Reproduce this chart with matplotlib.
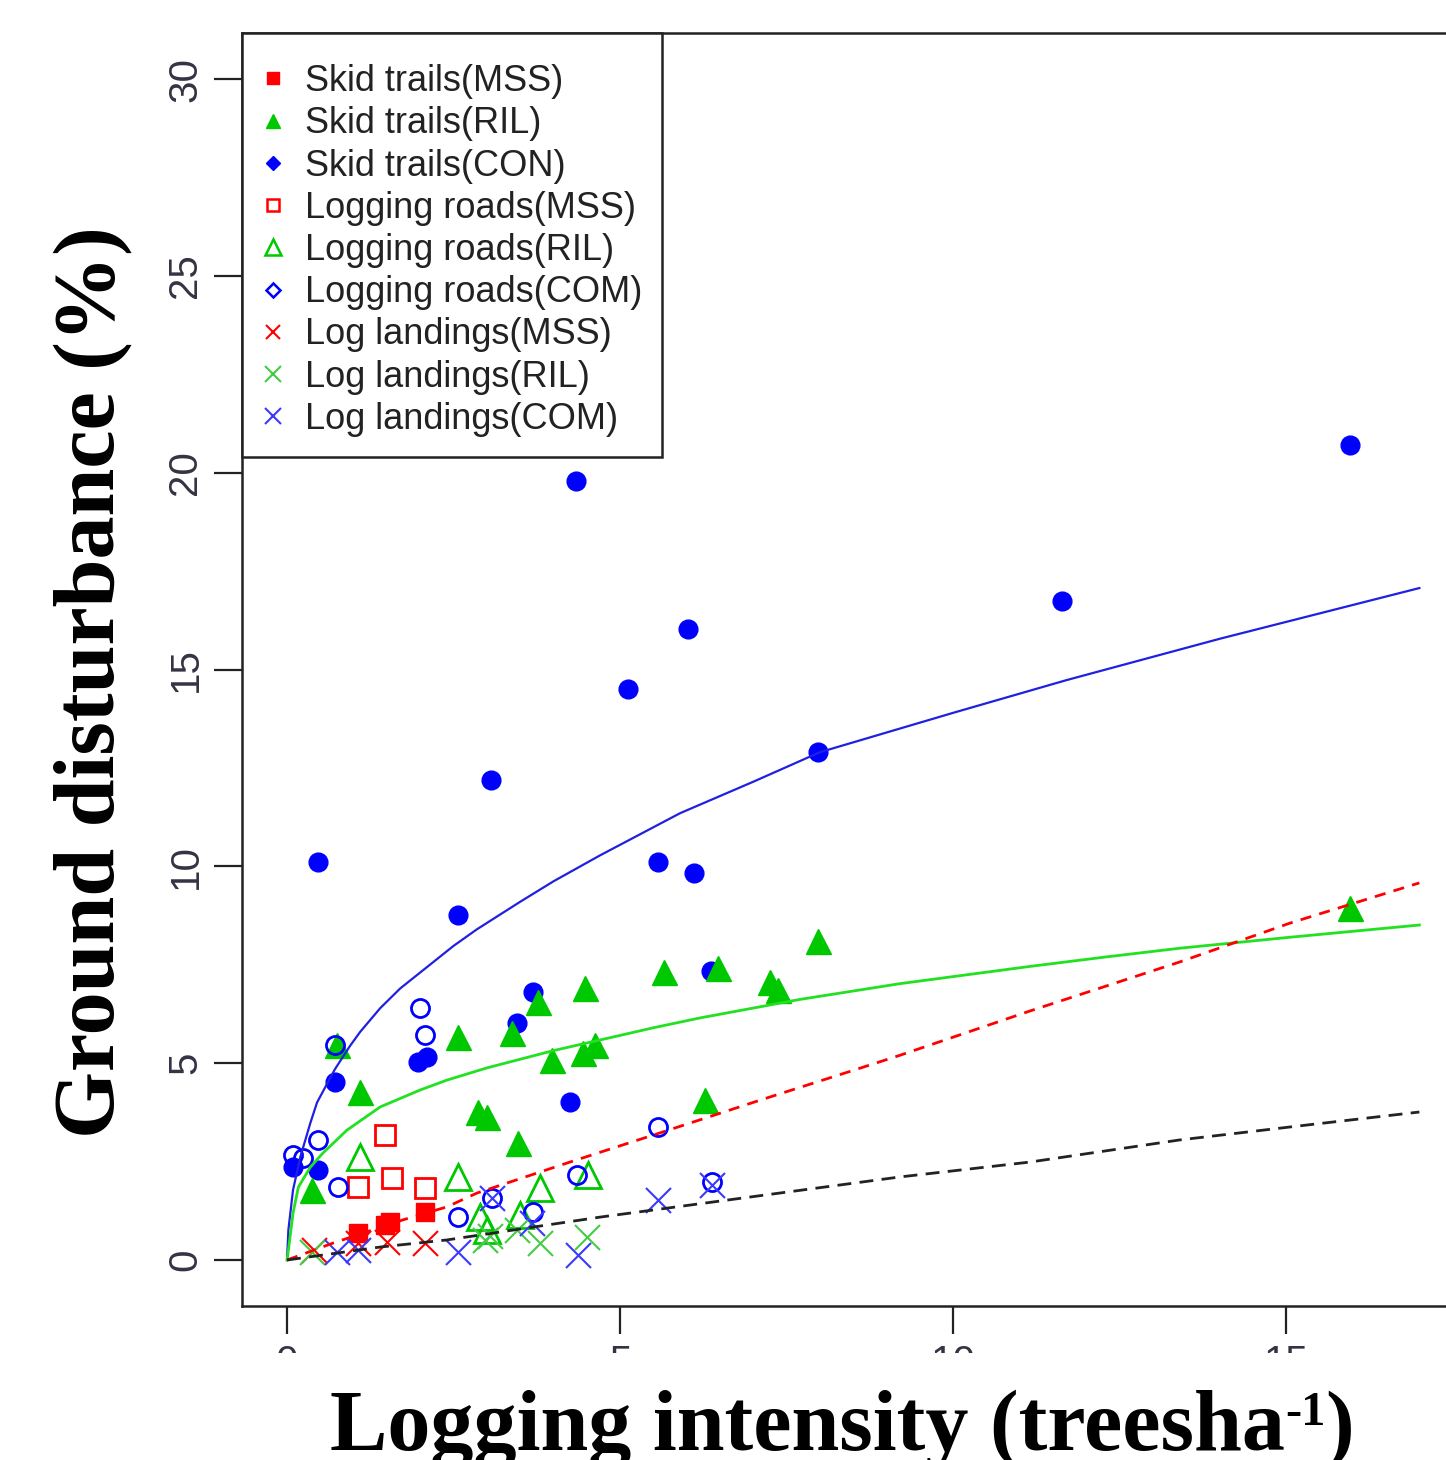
import matplotlib
matplotlib.use("Agg")
import matplotlib.pyplot as plt
from matplotlib.lines import Line2D
from matplotlib.patches import Rectangle

# ---- point data (logging intensity, ground disturbance %) ----
skid_mss_x = [1.07, 1.47, 1.55, 2.07]
skid_mss_y = [0.69, 0.89, 0.97, 1.22]

skid_ril_x = [0.75, 0.375, 1.10, 2.57, 2.87, 3.00, 3.47, 3.38, 3.77, 3.98, 4.47,
              4.45, 4.62, 5.66, 6.28, 6.47, 7.25, 7.37, 7.97, 15.96]
skid_ril_y = [5.46, 1.78, 4.27, 5.67, 3.76, 3.63, 2.97, 5.77, 6.55, 5.08, 6.91,
              5.26, 5.46, 7.32, 4.06, 7.42, 7.06, 6.86, 8.10, 8.94]

skid_con_x = [0.465, 0.09, 0.47, 0.72, 1.97, 2.10, 2.57, 3.06, 3.69, 3.45, 4.25,
              4.34, 5.12, 5.57, 6.02, 6.11, 6.37, 7.97, 11.64, 15.96]
skid_con_y = [10.11, 2.36, 2.29, 4.52, 5.03, 5.15, 8.76, 12.19, 6.81, 6.01, 4.01,
              19.79, 14.50, 10.11, 16.03, 9.83, 7.34, 12.90, 16.74, 20.70]

road_mss_x = [1.47, 1.07, 1.58, 2.07]
road_mss_y = [3.18, 1.86, 2.08, 1.83]

road_ril_x = [1.10, 2.57, 3.80, 2.90, 3.00, 3.50, 4.52]
road_ril_y = [2.62, 2.11, 1.83, 1.10, 0.75, 1.15, 2.16]

road_com_x = [0.09, 0.24, 0.47, 0.77, 0.72, 2.00, 2.07, 2.57, 3.08, 3.69, 4.35,
              5.57, 6.38]
road_com_y = [2.67, 2.59, 3.05, 1.86, 5.46, 6.40, 5.71, 1.09, 1.57, 1.22, 2.16,
              3.38, 1.98]

land_mss_x = [0.40, 1.07, 1.50, 2.07]
land_mss_y = [0.25, 0.43, 0.45, 0.43]

land_ril_x = [0.375, 2.97, 3.05, 3.45, 3.80, 4.50]
land_ril_y = [0.20, 0.50, 0.62, 0.76, 0.43, 0.58]

land_com_x = [0.75, 1.07, 2.57, 3.08, 3.68, 4.37, 5.57, 6.38]
land_com_y = [0.20, 0.25, 0.20, 1.57, 0.94, 0.13, 1.52, 1.90]

# ---- fitted curves ----
fit_con_x = [0, 0.02, 0.09, 0.2, 0.35, 0.45, 0.72, 0.95, 1.1, 1.4, 1.7, 2.1,
             2.5, 2.85, 3.5, 4.0, 4.7, 5.9, 7.0, 8.0, 10.0, 11.7, 14.0, 17.0]
fit_con_y = [0, 0.76, 1.78, 2.62, 3.48, 4.00, 4.85, 5.45, 5.80, 6.40, 6.90, 7.44,
             7.98, 8.40, 9.10, 9.62, 10.28, 11.35, 12.15, 12.90, 13.90, 14.73,
             15.78, 17.07]

fit_ril_x = [0, 0.015, 0.09, 0.17, 0.35, 0.54, 0.9, 1.4, 2.0, 2.4, 3.0, 3.5,
             4.0, 4.7, 5.5, 6.2, 7.7, 9.2, 11.16, 12.3, 13.4, 15.06, 17.0]
fit_ril_y = [0, 0.18, 1.19, 1.85, 2.36, 2.72, 3.30, 3.89, 4.32, 4.57, 4.88, 5.10,
             5.32, 5.59, 5.90, 6.15, 6.62, 7.02, 7.46, 7.70, 7.92, 8.20, 8.51]

fit_mss_x = [0, 0.69, 1.74, 2.4, 2.85, 4.25, 5.6, 7.1, 8.56, 9.2, 11.16, 13.4,
             15.06, 17.0]
fit_mss_y = [0, 0.43, 1.02, 1.35, 1.70, 2.49, 3.23, 4.06, 4.85, 5.20, 6.33,
             7.57, 8.56, 9.58]

fit_all_x = [0, 1.4, 2.4, 4.7, 6.95, 9.2, 11.16, 13.4, 15.06, 17.0]
fit_all_y = [0, 0.33, 0.51, 1.09, 1.60, 2.11, 2.49, 3.05, 3.38, 3.76]

y_ticks = [0, 5, 10, 15, 20, 25, 30]
x_ticks = [0, 5, 10, 15]

legend_labels = ["Skid trails(MSS)", "Skid trails(RIL)", "Skid trails(CON)",
                 "Logging roads(MSS)", "Logging roads(RIL)", "Logging roads(COM)",
                 "Log landings(MSS)", "Log landings(RIL)", "Log landings(COM)"]

RED = "#ff0000"
GREEN = "#00c800"
BLUE = "#0000ff"
LIME = "#22e022"

W, H = 1446, 1460
fig = plt.figure(figsize=(W / 100, H / 100), dpi=100)
ax = fig.add_axes([242 / W, 154 / H, (1464 - 242) / W, (1306 - 33) / H])

ax.plot(skid_con_x, skid_con_y, "o", color=BLUE, ms=13.5, zorder=3)
ax.plot(skid_ril_x, skid_ril_y, "^", color=GREEN, ms=18, zorder=3)
ax.plot(skid_mss_x, skid_mss_y, "s", color=RED, ms=13, zorder=3)
ax.plot(road_mss_x, road_mss_y, "s", mfc="none", mec=RED, mew=2, ms=14, zorder=3)
ax.plot(road_ril_x, road_ril_y, "^", mfc="none", mec=GREEN, mew=2, ms=19, zorder=3)
ax.plot(road_com_x, road_com_y, "o", mfc="none", mec=BLUE, mew=2, ms=13, zorder=3)
ax.plot(land_mss_x, land_mss_y, "x", color=RED, mew=1.5, ms=18, zorder=3)
ax.plot(land_ril_x, land_ril_y, "x", color="#44cc44", mew=1.5, ms=18, zorder=3)
ax.plot(land_com_x, land_com_y, "x", color="#3a3aff", mew=1.5, ms=18, zorder=3)

ax.plot(fit_con_x, fit_con_y, "-", color="#2020e0", lw=1.6, zorder=4)
ax.plot(fit_ril_x, fit_ril_y, "-", color=LIME, lw=2, zorder=4)
ax.plot(fit_mss_x, fit_mss_y, "--", color=RED, lw=2, dashes=(4, 3), zorder=4)
ax.plot(fit_all_x, fit_all_y, "--", color="#222222", lw=2, dashes=(5, 3), zorder=4)

ax.set_xlim(-0.676, 17.67)
ax.set_ylim(-1.168, 31.17)
for s in ax.spines.values():
    s.set_linewidth(1.8)
    s.set_color("#222222")

ax.set_yticks(y_ticks)
ax.set_yticklabels([str(v) for v in y_ticks], rotation=90, va="center",
                   family="Liberation Sans", fontsize=29, color="#333344")
ax.set_xticks(x_ticks)
ax.set_xticklabels([str(v) for v in x_ticks], family="Liberation Sans",
                   fontsize=29, color="#333344")
ax.tick_params(length=20, width=1.6, color="#222222", pad=7)

handles = [
    Line2D([], [], ls="none", marker="s", color=RED, ms=8),
    Line2D([], [], ls="none", marker="^", color=GREEN, ms=10),
    Line2D([], [], ls="none", marker="D", color=BLUE, ms=7),
    Line2D([], [], ls="none", marker="s", mfc="none", mec=RED, mew=1.8, ms=9),
    Line2D([], [], ls="none", marker="^", mfc="none", mec=GREEN, mew=1.8, ms=11),
    Line2D([], [], ls="none", marker="D", mfc="none", mec=BLUE, mew=1.8, ms=7),
    Line2D([], [], ls="none", marker="x", color=RED, mew=1.5, ms=10),
    Line2D([], [], ls="none", marker="x", color="#44cc44", mew=1.5, ms=11),
    Line2D([], [], ls="none", marker="x", color="#3a3aff", mew=1.5, ms=11),
]
leg = ax.legend(handles, legend_labels, loc="upper left", bbox_to_anchor=(0, 1),
                borderaxespad=0, fancybox=False, framealpha=1, edgecolor="#222222",
                prop={"family": "Liberation Sans", "size": 26},
                title=" ", title_fontsize=3,
                borderpad=0.55, handlelength=0.64, handletextpad=0.55,
                labelspacing=0.2)
leg.get_frame().set_linewidth(1.8)
for t in leg.get_texts():
    t.set_color("#222222")

# the source image is cropped just under the x tick marks
fig.add_artist(Rectangle((0, 0), 1, (1460 - 1353) / H, transform=fig.transFigure,
                         facecolor="white", edgecolor="none", zorder=5))

serif = dict(family="Liberation Serif", fontweight="bold", color="black", zorder=10)
fig.text(113 / W, (1460 - 682) / H, "Ground disturbance (%)", fontsize=62,
         rotation=90, rotation_mode="anchor", ha="center", va="baseline", **serif)

renderer = fig.canvas.get_renderer()
base = 10
t1 = fig.text(330 / W, base / H, "Logging intensity (treesha", fontsize=62,
              ha="left", va="baseline", **serif)
bb = t1.get_window_extent(renderer)
t2 = fig.text(bb.x1 / W, (base + 25) / H, "-1", fontsize=35,
              ha="left", va="baseline", **serif)
bb2 = t2.get_window_extent(renderer)
fig.text(bb2.x1 / W, base / H, ")", fontsize=62, ha="left", va="baseline", **serif)

fig.savefig("out.png", dpi=100)
